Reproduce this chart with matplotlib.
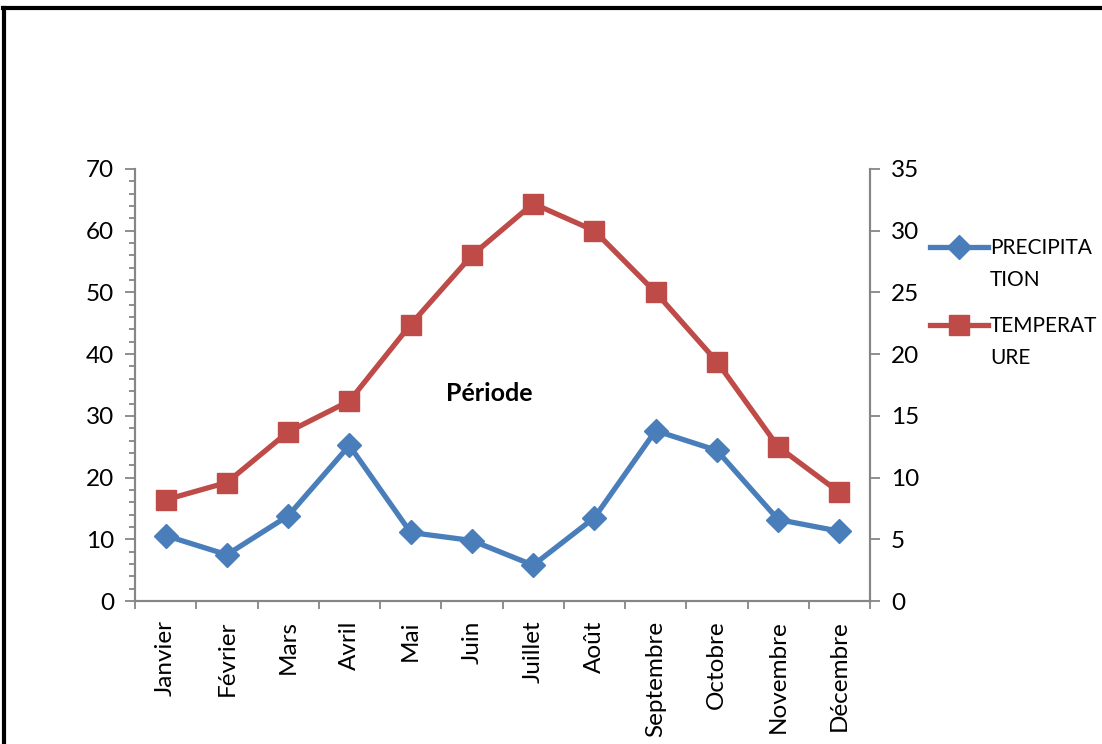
import matplotlib.pyplot as plt
from matplotlib.lines import Line2D
from matplotlib.ticker import MultipleLocator, FixedLocator
import numpy as np

plt.rcParams['font.family'] = ['Lato', 'DejaVu Sans']

mois = ["Janvier", "Février", "Mars", "Avril", "Mai", "Juin", "Juillet",
        "Août", "Septembre", "Octobre", "Novembre", "Décembre"]
precipitation = [10.6, 7.5, 13.8, 25.2, 11.1, 9.8, 5.8, 13.5, 27.6, 24.4, 13.2, 11.3]
temperature = [8.2, 9.6, 13.7, 16.2, 22.4, 28.0, 32.2, 30.0, 25.0, 19.4, 12.5, 8.8]
legende = ["PRECIPITA\nTION", "TEMPERAT\nURE"]

BLUE = "#4a7ebb"
RED = "#be4b48"
GREY = "#868686"
W, H = 1102, 744

fig = plt.figure(figsize=(W / 100, H / 100), dpi=100)
ax = fig.add_axes([135/W, 1 - 601/H, (870-135)/W, (601-169)/H])
ax2 = ax.twinx()

x = np.arange(len(mois))
ax.plot(x, precipitation, color=BLUE, lw=3.8, marker="D", ms=12, zorder=3)
ax2.plot(x, temperature, color=RED, lw=3.8, marker="s", ms=14, zorder=3)

ax.set_xlim(-0.5, 11.5)
ax.set_ylim(0, 70)
ax2.set_ylim(0, 35)

ax.yaxis.set_major_locator(MultipleLocator(10))
ax.yaxis.set_minor_locator(MultipleLocator(2))
ax2.yaxis.set_major_locator(MultipleLocator(5))

FS = 17.5
ax.set_xticks(x)
ax.set_xticklabels(mois, rotation=90)
ax.xaxis.set_minor_locator(FixedLocator(np.arange(-0.5, 12, 1)))
ax.tick_params(axis="x", which="major", length=0, pad=14, labelsize=FS)
ax.tick_params(axis="x", which="minor", length=6, color=GREY, width=1.3)
ax.tick_params(axis="y", which="major", length=7, color=GREY, width=1.3,
               labelsize=FS, pad=8)
ax.tick_params(axis="y", which="minor", length=4, color=GREY, width=1.3)
ax2.tick_params(axis="y", which="major", length=7, color=GREY, width=1.3,
                labelsize=FS, pad=8)

for a in (ax, ax2):
    a.spines["top"].set_visible(False)
    for s in ("left", "right", "bottom"):
        a.spines[s].set_color(GREY)
        a.spines[s].set_linewidth(1.5)
    a.patch.set_visible(False)

ax.text(0.4816, 0.481, "Période", transform=ax.transAxes, ha="center",
        va="center", fontsize=18, fontweight="bold")

# legend, Excel style: handle aligned with the first line of the label
for ypix, lab, col, mk, ms in [(247, legende[0], BLUE, "D", 12),
                               (325, legende[1], RED, "s", 14)]:
    y = 1 - ypix / H
    fig.add_artist(Line2D([930/W, 988/W], [y, y], color=col, lw=3.8,
                          transform=fig.transFigure))
    fig.add_artist(Line2D([959/W], [y], color=col, marker=mk, ms=ms,
                          transform=fig.transFigure))
    fig.text(990/W, y + 9/H, lab, fontsize=15, va="top", ha="left",
             linespacing=1.75)

# chart frame (only left and top edges are in view)
fig.add_artist(Line2D([4/W, 4/W], [0, 1 - 8/H], color="black",
                      lw=3, transform=fig.transFigure))
fig.add_artist(Line2D([3/W, 1], [1 - 8/H, 1 - 8/H], color="black",
                      lw=3, transform=fig.transFigure))

fig.savefig("out.png", dpi=100)
